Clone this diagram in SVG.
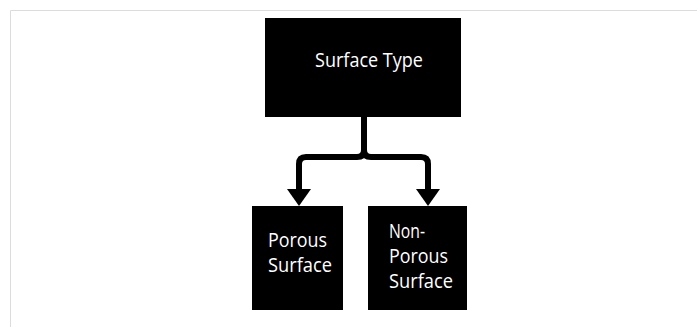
<svg xmlns="http://www.w3.org/2000/svg" width="697" height="327" viewBox="0 0 697 327">
  <style>
    .box { fill: #000; }
    .lbl { fill: #fff; font-family: "Open Sans", "Noto Sans", sans-serif; font-size: 20px; }
    .conn { fill: none; stroke: #000; stroke-width: 6; stroke-linejoin: round; }
  </style>
  <defs>
    <marker id="arrow" markerUnits="userSpaceOnUse" markerWidth="17" markerHeight="24" viewBox="0 0 17 24" refX="0" refY="12" orient="auto">
      <path d="M0,0 L17,12 L0,24 Z" fill="#000"/>
    </marker>
  </defs>
  <rect x="0" y="0" width="697" height="327" fill="#fff"/>
  <path d="M10.5,327 V10.5 H697" fill="none" stroke="#dcdcdc" stroke-width="1"/>
  <g id="connectors">
    <path class="conn" d="M364,117 V150 Q364,157 357,157 H306 Q299,157 299,164 V189" marker-end="url(#arrow)"/>
    <path class="conn" d="M364,117 V150 Q364,157 371,157 H421 Q428,157 428,164 V189" marker-end="url(#arrow)"/>
  </g>
  <g id="surface-type">
    <rect class="box" x="265" y="18" width="196" height="99"/>
    <text class="lbl" x="315" y="67" textLength="108" lengthAdjust="spacingAndGlyphs">Surface Type</text>
  </g>
  <g id="porous-surface">
    <rect class="box" x="252" y="206" width="91" height="104"/>
    <text class="lbl" x="268" y="247" textLength="59" lengthAdjust="spacingAndGlyphs">Porous</text>
    <text class="lbl" x="268" y="272" textLength="64" lengthAdjust="spacingAndGlyphs">Surface</text>
  </g>
  <g id="non-porous-surface">
    <rect class="box" x="368" y="206" width="99" height="104"/>
    <text class="lbl" x="389" y="238" textLength="36" lengthAdjust="spacingAndGlyphs">Non-</text>
    <text class="lbl" x="389" y="263" textLength="59" lengthAdjust="spacingAndGlyphs">Porous</text>
    <text class="lbl" x="389" y="288" textLength="64" lengthAdjust="spacingAndGlyphs">Surface</text>
  </g>
</svg>
